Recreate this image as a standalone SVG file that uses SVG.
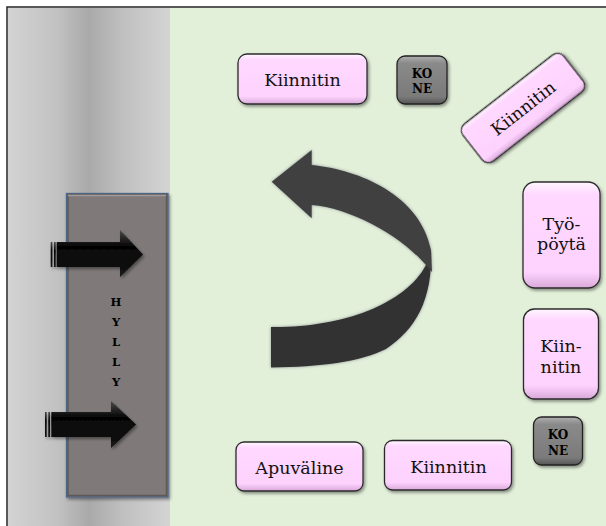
<svg xmlns="http://www.w3.org/2000/svg" width="606" height="526" viewBox="0 0 606 526">
<defs>
<linearGradient id="strip" x1="0" y1="0" x2="1" y2="0">
<stop offset="0" stop-color="#d3d3d3"/>
<stop offset="0.3" stop-color="#c2c2c2"/>
<stop offset="0.5" stop-color="#a9a9a9"/>
<stop offset="0.7" stop-color="#bfbfbf"/>
<stop offset="1" stop-color="#d4d4d4"/>
</linearGradient>
<linearGradient id="pink" x1="0" y1="0" x2="0" y2="1">
<stop offset="0" stop-color="#fff6ff"/>
<stop offset="0.12" stop-color="#ffd8ff"/>
<stop offset="0.85" stop-color="#fdd2fd"/>
<stop offset="1" stop-color="#d9a9d9"/>
</linearGradient>
<linearGradient id="gray" x1="0" y1="0" x2="0" y2="1">
<stop offset="0" stop-color="#b0b0b0"/>
<stop offset="0.15" stop-color="#8a8a8a"/>
<stop offset="0.85" stop-color="#7a7a7a"/>
<stop offset="1" stop-color="#555"/>
</linearGradient>
<linearGradient id="blk" x1="0" y1="0" x2="0" y2="1">
<stop offset="0" stop-color="#4a4a4a"/>
<stop offset="0.35" stop-color="#050505"/>
<stop offset="1" stop-color="#151515"/>
</linearGradient>
<filter id="sh" x="-20%" y="-20%" width="140%" height="140%">
<feDropShadow dx="1.5" dy="2" stdDeviation="1.5" flood-color="#000" flood-opacity="0.4"/>
</filter>
<filter id="glow" x="-20%" y="-20%" width="140%" height="140%">
<feDropShadow dx="0" dy="0" stdDeviation="1.5" flood-color="#556" flood-opacity="0.6"/>
</filter>
<style>
.pk{fill:url(#pink);stroke:#2b2b2b;stroke-width:1.3;filter:url(#sh)}
.gk{fill:url(#gray);stroke:#222;stroke-width:1.3;filter:url(#sh)}
.lbl{font-family:"DejaVu Serif","Liberation Serif",serif;font-size:17.5px;fill:#111;text-anchor:middle}
.kn{font-family:"DejaVu Serif","Liberation Serif",serif;font-size:12px;font-weight:bold;fill:#000;text-anchor:middle}
.hy{font-family:"DejaVu Serif","Liberation Serif",serif;font-size:11.5px;font-weight:bold;fill:#000;text-anchor:middle}
.arr{fill:url(#blk);filter:url(#sh)}
</style>
</defs>
<rect x="0" y="0" width="606" height="526" fill="#ffffff"/>
<rect x="8" y="8" width="598" height="518" fill="#e2efd9"/>
<rect x="8" y="8" width="162" height="518" fill="url(#strip)"/>
<rect x="7" y="7" width="640" height="560" fill="none" stroke="#222" stroke-width="1.5"/>

<g id="hylly">
<rect x="66.5" y="193.5" width="101.5" height="303.5" fill="#7f7979" stroke="#4d6585" stroke-width="1.3" filter="url(#sh)"/>
<rect x="68" y="195" width="98.5" height="300.5" fill="none" stroke="#5e5858" stroke-width="1.5"/>
<line x1="68" y1="195.5" x2="166" y2="195.5" stroke="#a19b9b" stroke-width="1.5"/>
<text class="hy" x="116" y="306">H</text>
<text class="hy" x="116" y="326">Y</text>
<text class="hy" x="116" y="346">L</text>
<text class="hy" x="116" y="366">L</text>
<text class="hy" x="116" y="386">Y</text>
</g>

<g id="kiinnitin1">
<rect class="pk" x="238" y="54" width="129" height="50" rx="9"/>
<text class="lbl" x="302.5" y="86">Kiinnitin</text>
</g>
<g id="kone1">
<rect class="gk" x="397" y="56" width="50" height="48" rx="8"/>
<text class="kn" x="422" y="77.5">KO</text>
<text class="kn" x="422" y="93">NE</text>
</g>
<g id="kiinnitin2" transform="translate(523,108) rotate(-38)">
<rect class="pk" x="-64" y="-23.5" width="128" height="47" rx="8"/>
<text class="lbl" x="0" y="6.5">Kiinnitin</text>
</g>
<g id="tyopoyta">
<rect class="pk" x="523" y="182" width="77" height="106" rx="12"/>
<text class="lbl" x="561.5" y="230">Työ-</text>
<text class="lbl" x="561.5" y="250">pöytä</text>
</g>
<g id="kiinnitin3">
<rect class="pk" x="523.5" y="309" width="75" height="90" rx="11"/>
<text class="lbl" x="561" y="351.5">Kiin-</text>
<text class="lbl" x="561" y="373">nitin</text>
</g>
<g id="kone2">
<rect class="gk" x="533.5" y="417" width="49" height="48" rx="8"/>
<text class="kn" x="558" y="439">KO</text>
<text class="kn" x="558" y="455">NE</text>
</g>
<g id="apuvaline">
<rect class="pk" x="236" y="442" width="127" height="49" rx="8"/>
<text class="lbl" x="299.5" y="473.5">Apuväline</text>
</g>
<g id="kiinnitin4">
<rect class="pk" x="384.5" y="440.5" width="127" height="49.5" rx="8"/>
<text class="lbl" x="448.5" y="473">Kiinnitin</text>
</g>

<g id="connectors">
<g filter="url(#glow)">
<path d="M431,250 C433,300 415,330 386,349 C360,362 320,367 271,367.5 L271,327 C340,328 405,305 426,265 Z" fill="#333333"/>
<path d="M271.7,181.7 L311.7,150 L311.7,165 C360,170 420,195 431,250 L432,272 L426,265 C400,235 350,208 311.7,205 L311.7,218.3 Z" fill="#404040"/>
</g>
<g class="arr">
<rect x="50.7" y="242" width="1.7" height="25"/>
<rect x="54" y="242" width="1.7" height="25"/>
<path d="M56.7,242 L120,242 L120,230 L143,254.5 L120,277 L120,267 L56.7,267 Z"/>
</g>
<g class="arr">
<rect x="45" y="412" width="1.7" height="25"/>
<rect x="48.3" y="412" width="1.7" height="25"/>
<path d="M51.3,412 L111,412 L111,401 L136,424.5 L111,448 L111,437 L51.3,437 Z"/>
</g>
</g>
</svg>
